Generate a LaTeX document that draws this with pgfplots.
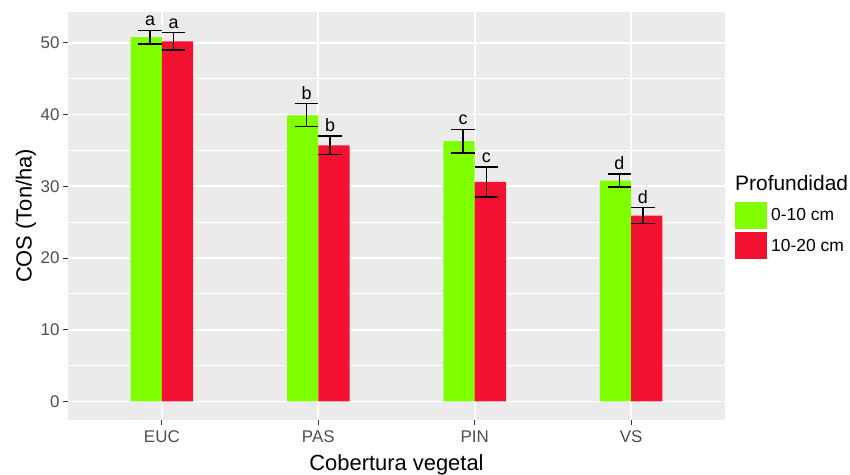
\documentclass[border=0pt]{standalone}
\usepackage{fontspec}
\setmainfont{Liberation Sans}
\usepackage{pgfplots}
\pgfplotsset{compat=1.18}
\usepackage{pgfplotstable}
\definecolor{panelbg}{HTML}{EBEBEB}
\definecolor{ticktext}{HTML}{4D4D4D}
\definecolor{tickcol}{HTML}{333333}
\definecolor{cgreen}{HTML}{7FFF00}
\definecolor{cred}{HTML}{F21131}

\pgfplotstableread{
x y
0.9 50.8
1.9 39.9
2.9 36.3
3.9 30.8
}\greenbars
\pgfplotstableread{
x y
1.1 50.2
2.1 35.7
3.1 30.6
4.1 25.9
}\redbars
\pgfplotstableread{
x y e
0.925 50.8 0.95
1.925 39.9 1.6
2.925 36.3 1.65
3.925 30.8 0.9
}\greenerr
\pgfplotstableread{
x y e
1.075 50.2 1.2
2.075 35.7 1.3
3.075 30.6 2.1
4.075 25.9 1.1
}\rederr
\pgfplotstableread{
x y lab
0.925 51.75 a
1.075 51.4 a
1.925 41.5 b
2.075 37.0 b
2.925 37.95 c
3.075 32.7 c
3.925 31.7 d
4.075 27.0 d
}\letters

\begin{document}
\begin{tikzpicture}[x=1bp,y=1bp]
\useasboundingbox (0,0) rectangle (850,475);
\begin{axis}[
  at={(68bp,55bp)}, anchor=south west,
  scale only axis, width=657bp, height=408bp,
  xmin=0.4, xmax=4.6, ymin=-2.585, ymax=54.3,
  xtick={1,2,3,4}, xticklabels={EUC,PAS,PIN,VS},
  ytick={0,10,20,30,40,50},
  minor ytick={5,15,25,35,45},
  /pgf/number format/assume math mode=true,
  axis background/.style={fill=panelbg},
  axis line style={draw=none},
  xmajorgrids, ymajorgrids, yminorgrids,
  major grid style={white, line width=1.6bp},
  minor grid style={white, line width=0.8bp},
  tick align=outside, tick pos=left,
  major tick length=5bp, minor tick length=0bp,
  tick style={tickcol, line width=1bp},
  tick label style={font=\fontsize{17}{20}\selectfont, text=ticktext},
  xticklabel style={yshift=-2bp},
  xlabel={Cobertura vegetal},
  ylabel={COS (Ton/ha)},
  xlabel style={at={(axis description cs:0.5,-0.1243)}, anchor=base, font=\fontsize{22}{26}\selectfont},
  ylabel style={at={(axis description cs:-0.064,0.5)}, anchor=center, font=\fontsize{22}{26}\selectfont},
  legend style={draw=none, fill=none, at={(1.0152,0.535)}, anchor=north west,
    inner sep=0pt, row sep=3bp, column sep=4bp, nodes={inner sep=0pt, anchor=west},
    font=\fontsize{17.5}{20}\selectfont},
  legend cell align=left,
]
\addplot[ybar, bar width=0.2, bar shift=0, fill=cgreen, draw=none,
  legend image code/.code={\fill[cgreen] (0bp,-13.6bp) rectangle (32bp,13.6bp);}]
  table[x=x,y=y] {\greenbars};
\addlegendentry{0-10 cm}
\addplot[ybar, bar width=0.2, bar shift=0, fill=cred, draw=none,
  legend image code/.code={\fill[cred] (0bp,-13.6bp) rectangle (32bp,13.6bp);}]
  table[x=x,y=y] {\redbars};
\addlegendentry{10-20 cm}
\addplot[forget plot, draw=none, mark=none,
  error bars/.cd, y dir=both, y explicit,
  error bar style={black, line width=1.3bp},
  error mark options={black, rotate=90, mark size=11.7bp, line width=1.3bp}]
  table[x=x,y=y,y error=e] {\greenerr};
\addplot[forget plot, draw=none, mark=none,
  error bars/.cd, y dir=both, y explicit,
  error bar style={black, line width=1.3bp},
  error mark options={black, rotate=90, mark size=11.7bp, line width=1.3bp}]
  table[x=x,y=y,y error=e] {\rederr};
\addplot[forget plot, draw=none, mark=none, nodes near coords,
  point meta=explicit symbolic,
  nodes near coords style={anchor=south, inner sep=0pt, yshift=4bp, font=\fontsize{18}{20}\selectfont, text=black}]
  table[x=x,y=y,meta=lab] {\letters};
\end{axis}
\node[anchor=base west, inner sep=0pt, font=\fontsize{21}{25}\selectfont] at (735,284) {Profundidad};
\end{tikzpicture}
\end{document}
